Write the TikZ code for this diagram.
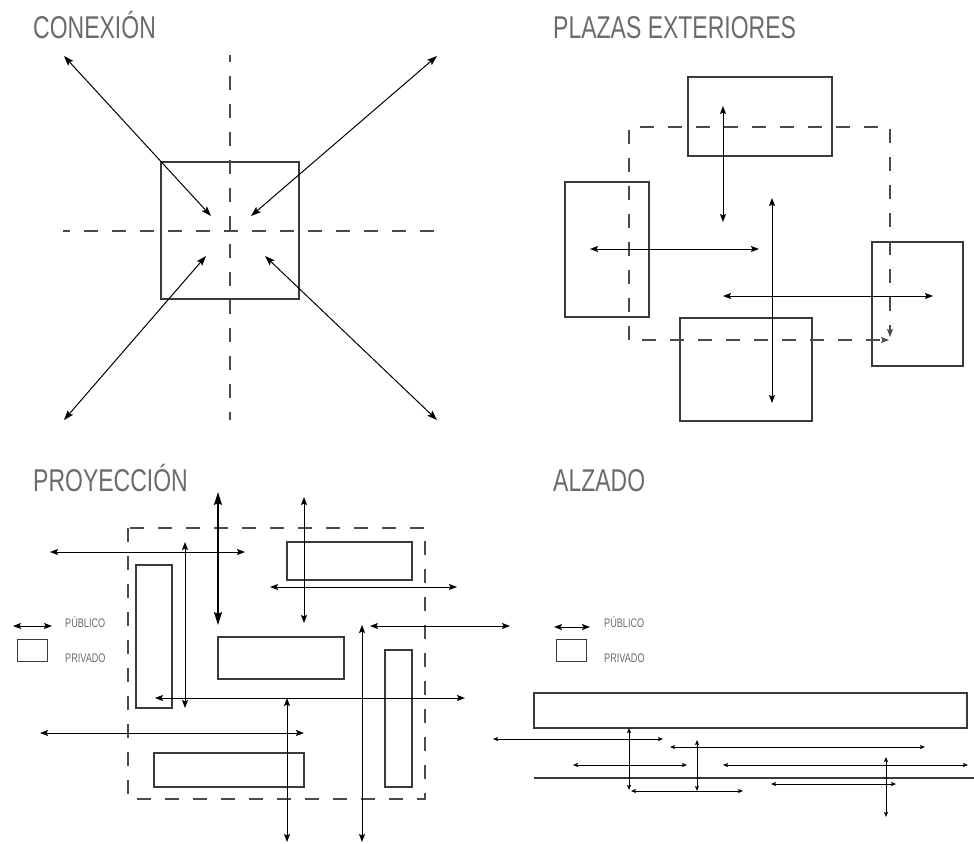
\documentclass[tikz,border=0pt]{standalone}
\usepackage{fontspec}
\setmainfont{Liberation Sans}
\newfontfamily\titlefont[FakeStretch=0.73]{Liberation Sans}
\usetikzlibrary{arrows.meta}
\definecolor{titlegray}{HTML}{6B6B6B}
\definecolor{boxgray}{HTML}{3A3A3A}
\definecolor{dashgray}{HTML}{4A4A4A}
\begin{document}
\begin{tikzpicture}[x=1pt,y=-1pt,
  title/.style={anchor=base west,inner sep=0pt,font=\titlefont\fontsize{31.5}{32}\selectfont,text=titlegray},
  legendtxt/.style={anchor=base west,inner sep=0pt,font=\titlefont\fontsize{12.5}{13}\selectfont,text=titlegray},
  box/.style={draw=boxgray,line width=1.2pt},
  dashline/.style={draw=dashgray,line width=1.2pt,dash pattern=on 14pt off 14pt},
  dbl/.style={line width=1pt,{Stealth[length=10pt,width=7pt,inset=2pt]}-{Stealth[length=10pt,width=7pt,inset=2pt]}},
  dblmid/.style={line width=1pt,{Stealth[length=8pt,width=6pt,inset=1.5pt]}-{Stealth[length=8pt,width=6pt,inset=1.5pt]}},
  dblbig/.style={line width=1.5pt,{Stealth[length=13pt,width=8pt,inset=2pt]}-{Stealth[length=13pt,width=8pt,inset=2pt]}},
  dblsmall/.style={line width=0.9pt,{Stealth[length=5pt,width=4pt,inset=1pt]}-{Stealth[length=5pt,width=4pt,inset=1pt]}},
  endarrow/.style={-{Stealth[length=8pt,width=6pt,inset=1.5pt]}}
]
\useasboundingbox (0,0) rectangle (974,843);

% ===== CONEXION =====
\node[title] (t1) at (33,38) {CONEXIÓN};
\draw[box] (161,162) rectangle (299,299);
\draw[dashline,dash phase=7pt] (230,55) -- (230,420);
\draw[dashline,dash phase=7pt] (63,231) -- (437,231);
\draw[dbl] (64,56) -- (211,216);
\draw[dbl] (437,56) -- (251,216);
\draw[dbl] (64,420) -- (206,256);
\draw[dbl] (437,420) -- (265,256);

% ===== PLAZAS EXTERIORES =====
\node[title] (t2) at (553,38) {PLAZAS EXTERIORES};
\draw[box] (688,77) rectangle (832,156);
\draw[box] (565,182) rectangle (649,317);
\draw[box] (872,242) rectangle (963,366);
\draw[box] (680,318) rectangle (812,421);
\draw[dashline,endarrow] (629,340) -- (629,127) -- (890,127) -- (890,337);
\draw[dashline,endarrow] (642,340) -- (889,340);
\draw[dblmid] (723,106) -- (723,222);
\draw[dblmid] (772,198) -- (772,403);
\draw[dblmid] (590,249) -- (759,249);
\draw[dblmid] (723,296) -- (933,296);

% ===== PROYECCION =====
\node[title] (t3) at (33,491) {PROYECCIÓN};
\draw[dashline] (128,528) rectangle (425,799);
\draw[box] (136,565) rectangle (172,708);
\draw[box] (287,542) rectangle (412,580);
\draw[box] (218,637) rectangle (344,679);
\draw[box] (385,650) rectangle (412,787);
\draw[box] (154,753) rectangle (304,787);
\draw[dblmid] (50,552) -- (245,552);
\draw[dblbig] (218,492) -- (218,625);
\draw[dblmid] (185,542) -- (185,708);
\draw[dblmid] (304,497) -- (304,623);
\draw[dblmid] (270,587) -- (457,587);
\draw[dblmid] (370,626) -- (510,626);
\draw[dblmid] (362,625) -- (362,842);
\draw[dblmid] (155,698) -- (465,698);
\draw[dblmid] (287,698) -- (287,842);
\draw[dblmid] (40,733) -- (304,733);
% legend
\draw[dblmid] (13,626) -- (52,626);
\draw[box,line width=1pt] (17,639) rectangle (47,661);
\node[legendtxt] (l1) at (65,627) {PÚBLICO};
\node[legendtxt] (l2) at (65,662) {PRIVADO};

% ===== ALZADO =====
\node[title] (t4) at (553,491) {ALZADO};
\draw[dblmid] (554,627) -- (590,627);
\draw[box,line width=1pt] (556,639) rectangle (586,661);
\node[legendtxt] (l3) at (604,627) {PÚBLICO};
\node[legendtxt] (l4) at (604,662) {PRIVADO};
\draw[box] (534,693) rectangle (967,728);
\draw[box] (534,778) -- (974,778);
\draw[dblsmall] (493,739) -- (663,739);
\draw[dblsmall] (670,747) -- (925,747);
\draw[dblsmall] (573,765) -- (687,765);
\draw[dblsmall] (723,765) -- (968,765);
\draw[dblsmall] (771,784) -- (896,784);
\draw[dblsmall] (631,791) -- (743,791);
\draw[dblsmall] (629,728) -- (629,790);
\draw[dblsmall] (697,740) -- (697,791);
\draw[dblsmall] (886,757) -- (886,817);
\end{tikzpicture}
\end{document}
